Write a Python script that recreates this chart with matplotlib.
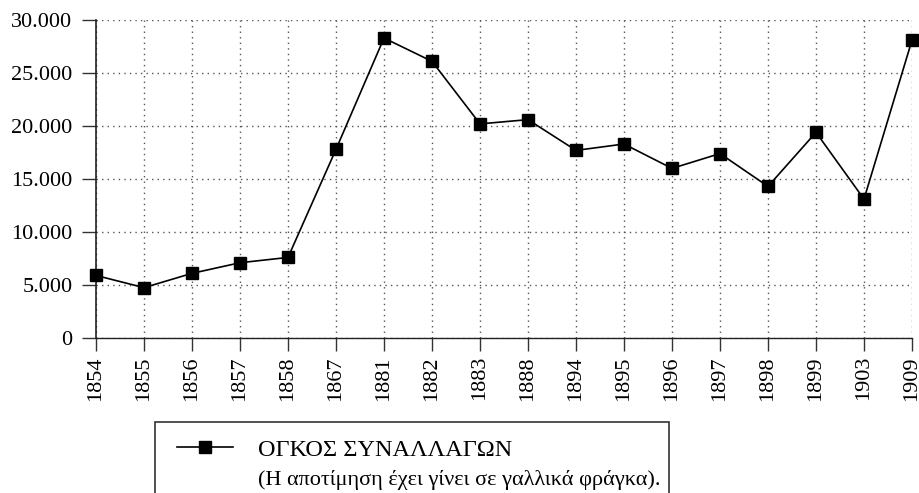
import matplotlib
matplotlib.use("Agg")
import matplotlib.pyplot as plt
from matplotlib.ticker import FuncFormatter
from matplotlib.lines import Line2D
from matplotlib.patches import Rectangle

years = ["1854", "1855", "1856", "1857", "1858", "1867", "1881", "1882", "1883",
         "1888", "1894", "1895", "1896", "1897", "1898", "1899", "1903", "1909"]
volume = [5900, 4750, 6100, 7100, 7600, 17800, 28300, 26100, 20200,
          20600, 17700, 18300, 16000, 17400, 14300, 19400, 13100, 28100]
yticks = [0, 5000, 10000, 15000, 20000, 25000, 30000]
legend_title = "ΟΓΚΟΣ ΣΥΝΑΛΛΑΓΩΝ"
legend_note = "(Η αποτίμηση έχει γίνει σε γαλλικά φράγκα)."

plt.rcParams['font.family'] = ['Liberation Serif', 'DejaVu Serif']

fig = plt.figure(figsize=(9.2, 4.93), dpi=100)
ax = fig.add_axes([96/920, 1-338/493, (912-96)/920, (338-20)/493])

x = list(range(len(years)))
ax.plot(x, volume, color="black", lw=1.2, marker="s", markersize=8.5,
        markerfacecolor="black", markeredgecolor="black", clip_on=False, zorder=3)

ax.set_xlim(0, len(years) - 1)
ax.set_ylim(0, 30000)
ax.set_xticks(x)
ax.set_xticklabels(years, rotation=90, fontsize=16)
ax.set_yticks(yticks)
ax.yaxis.set_major_formatter(FuncFormatter(lambda v, p: f"{int(v):,}".replace(",", ".")))
ax.tick_params(axis="y", labelsize=16, length=10, width=1, color="#333333", pad=7)
ax.tick_params(axis="x", length=9, width=1, color="#333333", pad=4)

ax.grid(True, which="major", linestyle=(0, (1, 3)), color="#555555", lw=1)
for s in ["top", "right"]:
    ax.spines[s].set_visible(False)
ax.spines["left"].set_color("#222222")
ax.spines["bottom"].set_color("#222222")
ax.spines["left"].set_linewidth(1.2)
ax.spines["bottom"].set_linewidth(1)
ax.set_axisbelow(True)

# legend box (cut off at bottom of figure)
fig.patches.append(Rectangle((155/920, -0.05), (669-155)/920, 0.05 + 1-422/493,
                             transform=fig.transFigure, fill=False,
                             edgecolor="#333333", lw=1.2))
fig.lines.append(Line2D([177/920, 233/920], [1-447/493, 1-447/493],
                        transform=fig.transFigure, color="black", lw=1.2))
fig.lines.append(Line2D([205/920], [1-447/493], transform=fig.transFigure,
                        marker="s", markersize=8, color="black", ls="none"))
fig.text(258/920, 1-450/493, legend_title, fontsize=17.5, va="center", ha="left")
fig.text(258/920, 1-480/493, legend_note, fontsize=16, va="center", ha="left")

fig.savefig("out.png", dpi=100)
